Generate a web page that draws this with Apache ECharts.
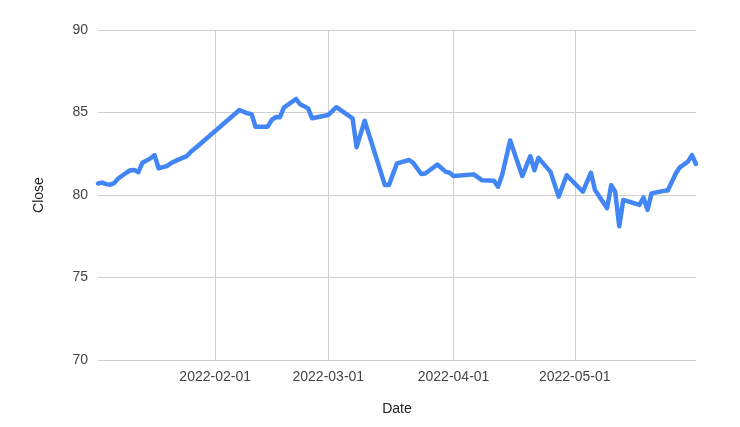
<!DOCTYPE html>
<html><head><meta charset="utf-8">
<script src="https://cdn.jsdelivr.net/npm/echarts@6/dist/echarts.min.js"></script>
<style>html,body{margin:0;padding:0;background:#fff}#c{width:740px;height:427px}</style>
</head><body><div id="c"></div>
<script>
const dates = ["2022-01-03","2022-01-04","2022-01-05","2022-01-06","2022-01-07","2022-01-08","2022-01-10","2022-01-11","2022-01-12","2022-01-13","2022-01-14","2022-01-16","2022-01-17","2022-01-18","2022-01-20","2022-01-21","2022-01-23","2022-01-25","2022-01-26","2022-01-28",
"2022-02-07","2022-02-09","2022-02-10","2022-02-11","2022-02-14","2022-02-15","2022-02-16","2022-02-17","2022-02-18","2022-02-21","2022-02-22","2022-02-23","2022-02-24","2022-02-25",
"2022-03-01","2022-03-03","2022-03-07","2022-03-08","2022-03-10","2022-03-15","2022-03-16","2022-03-18","2022-03-20","2022-03-21","2022-03-22","2022-03-24","2022-03-25","2022-03-28","2022-03-30","2022-03-31",
"2022-04-01","2022-04-06","2022-04-08","2022-04-11","2022-04-12","2022-04-13","2022-04-15","2022-04-18","2022-04-20","2022-04-21","2022-04-22","2022-04-25","2022-04-27","2022-04-29",
"2022-05-03","2022-05-05","2022-05-06","2022-05-09","2022-05-10","2022-05-11","2022-05-12","2022-05-13","2022-05-17","2022-05-18","2022-05-19","2022-05-20","2022-05-23","2022-05-24","2022-05-26","2022-05-27","2022-05-29","2022-05-30","2022-05-31"];
const closes = [80.7,80.75,80.66,80.62,80.72,81.0,81.35,81.5,81.52,81.38,81.96,82.22,82.42,81.62,81.75,81.92,82.16,82.36,82.62,83.03,
85.15,84.95,84.9,84.14,84.14,84.55,84.72,84.71,85.3,85.82,85.5,85.38,85.25,84.65,
84.85,85.32,84.65,82.9,84.5,80.6,80.6,81.92,82.05,82.12,81.95,81.27,81.3,81.85,81.42,81.35,
81.15,81.25,80.9,80.87,80.5,81.2,83.3,81.15,82.35,81.5,82.25,81.4,79.9,81.2,
80.2,81.35,80.3,79.2,80.6,80.2,78.1,79.7,79.4,79.85,79.1,80.1,80.25,80.27,81.3,81.68,82.02,82.42,81.88];
const yTicks = [70, 75, 80, 85, 90];
const xName = "Date", yName = "Close";

const chart = echarts.init(document.getElementById('c'));
const font = "Arial, 'Liberation Sans', sans-serif";
chart.setOption({
  animation: false,
  grid: {left: 98, right: 44, top: 30, bottom: 67},
  xAxis: {
    type: 'time',
    min: dates[0], max: dates[dates.length - 1],
    name: xName, nameLocation: 'middle', nameGap: 42,
    nameTextStyle: {color: '#222', fontSize: 14, fontFamily: font},
    axisLine: {show: false}, axisTick: {show: false},
    minInterval: 28 * 86400000, maxInterval: 31 * 86400000,
    splitLine: {show: true, showMinLine: false, showMaxLine: false, lineStyle: {color: '#d0d0d0', width: 1}},
    axisLabel: {formatter: '{yyyy}-{MM}-{dd}', color: '#444', fontSize: 14, fontFamily: font, margin: 10,
      showMinLabel: false, showMaxLabel: false}
  },
  yAxis: {
    type: 'value', min: yTicks[0], max: yTicks[yTicks.length - 1], interval: 5,
    name: yName, nameLocation: 'middle', nameGap: 52, nameRotate: 90,
    nameTextStyle: {color: '#222', fontSize: 14, fontFamily: font},
    axisLine: {show: false}, axisTick: {show: false},
    splitLine: {lineStyle: {color: '#d0d0d0', width: 1}},
    axisLabel: {color: '#444', fontSize: 14, fontFamily: font, margin: 10}
  },
  series: [{
    type: 'line', showSymbol: false, symbol: 'none',
    data: dates.map((d, i) => [d, closes[i]]),
    lineStyle: {color: '#4285f4', width: 4.5, join: 'round', cap: 'round'}
  }]
});
</script></body></html>
